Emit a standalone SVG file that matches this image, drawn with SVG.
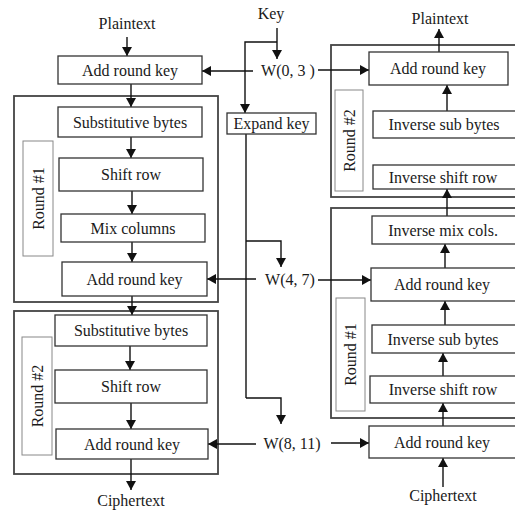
<svg xmlns="http://www.w3.org/2000/svg" width="515" height="510" viewBox="0 0 515 510">
<style>
text{font-size:16px;fill:#1a1a1a;text-anchor:middle}
.box{fill:#fff;stroke:#333;stroke-width:1.3}
.outer{fill:none;stroke:#444;stroke-width:1.8}
.lbl{fill:#fff;stroke:#888;stroke-width:1}
.ln{fill:none;stroke:#111;stroke-width:1.4}
.ar{fill:none;stroke:#111;stroke-width:1.4;marker-end:url(#ah)}
</style>
<defs>
<marker id="ah" markerUnits="userSpaceOnUse" markerWidth="9" markerHeight="10" viewBox="0 0 9 10" refX="9" refY="5" orient="auto">
<path d="M0,0 L9,5 L0,10 z" fill="#111"/>
</marker>
</defs>
<rect width="515" height="510" fill="#fff"/>
<g font-family="'Liberation Serif', 'DejaVu Serif', serif">

<g id="round-frames">
<rect class="outer" x="14" y="96" width="204" height="206"/>
<rect class="outer" x="14" y="311" width="204" height="163"/>
<rect class="outer" x="331" y="45" width="190" height="152"/>
<rect class="outer" x="331" y="208" width="190" height="210"/>
</g>

<g id="labels-round">
<g id="lbl-l1"><rect class="lbl" x="23" y="141" width="30" height="115"/><text transform="translate(38,198.5) rotate(-90)" y="5.5">Round #1</text></g>
<g id="lbl-l2"><rect class="lbl" x="22" y="337" width="30" height="118"/><text transform="translate(37,396) rotate(-90)" y="5.5">Round #2</text></g>
<g id="lbl-r2"><rect class="lbl" x="335" y="90" width="28" height="101"/><text transform="translate(349,140.5) rotate(-90)" y="5.5">Round #2</text></g>
<g id="lbl-r1"><rect class="lbl" x="336" y="298" width="29" height="113"/><text transform="translate(350.5,354.5) rotate(-90)" y="5.5">Round #1</text></g>
</g>

<g id="connectors">
<line class="ar" x1="127" y1="37" x2="127" y2="56"/>
<line class="ar" x1="131" y1="84" x2="131" y2="107"/>
<line class="ar" x1="131" y1="137" x2="131" y2="158"/>
<line class="ar" x1="132" y1="191" x2="132" y2="214"/>
<line class="ar" x1="132" y1="242" x2="132" y2="262"/>
<line class="ar" x1="132" y1="296" x2="132" y2="315"/>
<line class="ar" x1="130" y1="346" x2="130" y2="370"/>
<line class="ar" x1="131" y1="403" x2="131" y2="429"/>
<line class="ar" x1="131" y1="459" x2="131" y2="490"/>

<line class="ar" x1="439" y1="52" x2="439" y2="29"/>
<line class="ar" x1="447" y1="111" x2="447" y2="85"/>
<line class="ar" x1="447" y1="216" x2="447" y2="189"/>
<line class="ar" x1="445" y1="268" x2="445" y2="244"/>
<line class="ar" x1="445" y1="325" x2="445" y2="301"/>
<line class="ar" x1="443" y1="376" x2="443" y2="353"/>
<line class="ar" x1="443" y1="426" x2="443" y2="403"/>
<line class="ar" x1="443" y1="487" x2="443" y2="458"/>

<line class="ar" x1="277" y1="28" x2="277" y2="59"/>
<polyline class="ar" points="277,42 245,42 245,113"/>
<line class="ar" x1="253" y1="71" x2="202" y2="71"/>
<line class="ar" x1="318" y1="70" x2="369" y2="70"/>

<polyline class="ln" points="246,134 246,398"/>
<polyline class="ar" points="246,241 281,241 281,267"/>
<line class="ar" x1="256" y1="279" x2="207" y2="279"/>
<line class="ar" x1="318" y1="280" x2="371" y2="280"/>

<polyline class="ar" points="246,398 281,398 281,424"/>
<line class="ar" x1="256" y1="444" x2="208" y2="444"/>
<line class="ar" x1="331" y1="443" x2="369" y2="443"/>
</g>

<g id="io-labels">
<text x="127" y="29">Plaintext</text>
<text x="131" y="506">Ciphertext</text>
<text x="440" y="24">Plaintext</text>
<text x="443" y="501">Ciphertext</text>
<text x="271" y="19">Key</text>
<text x="288" y="76">W(0, 3 )</text>
<text x="290" y="285">W(4, 7)</text>
<text x="292" y="449">W(8, 11)</text>
</g>

<g id="expand-key"><rect class="box" x="227" y="113" width="89" height="21"/><text x="271.5" y="129">Expand key</text></g>

<g id="enc-ark0"><rect class="box" x="58" y="56" width="144" height="28"/><text x="130" y="75.5">Add round key</text></g>
<g id="enc-sb1"><rect class="box" x="58" y="107" width="144" height="30"/><text x="130" y="127.5">Substitutive bytes</text></g>
<g id="enc-sr1"><rect class="box" x="59" y="158" width="144" height="33"/><text x="131" y="180">Shift row</text></g>
<g id="enc-mc1"><rect class="box" x="61" y="214" width="144" height="28"/><text x="133" y="233.5">Mix columns</text></g>
<g id="enc-ark1"><rect class="box" x="62" y="262" width="145" height="34"/><text x="134.5" y="284.5">Add round key</text></g>
<g id="enc-sb2"><rect class="box" x="55" y="315" width="152" height="31"/><text x="131" y="336">Substitutive bytes</text></g>
<g id="enc-sr2"><rect class="box" x="55" y="370" width="152" height="33"/><text x="131" y="392">Shift row</text></g>
<g id="enc-ark2"><rect class="box" x="56" y="429" width="152" height="30"/><text x="132" y="449.5">Add round key</text></g>

<g id="dec-ark2"><rect class="box" x="369" y="52" width="139" height="33"/><text x="438" y="74">Add round key</text></g>
<g id="dec-isb2"><rect class="box" x="373" y="111" width="150" height="27"/><text x="444" y="130">Inverse sub bytes</text></g>
<g id="dec-isr2"><rect class="box" x="373" y="165" width="150" height="24"/><text x="443" y="182.5">Inverse shift row</text></g>
<g id="dec-imc1"><rect class="box" x="372" y="216" width="150" height="28"/><text x="443" y="235.5">Inverse mix cols.</text></g>
<g id="dec-ark1"><rect class="box" x="371" y="268" width="150" height="33"/><text x="442" y="290">Add round key</text></g>
<g id="dec-isb1"><rect class="box" x="372" y="325" width="150" height="28"/><text x="443" y="344.5">Inverse sub bytes</text></g>
<g id="dec-isr1"><rect class="box" x="370" y="376" width="150" height="27"/><text x="443" y="395">Inverse shift row</text></g>
<g id="dec-ark0"><rect class="box" x="369" y="426" width="150" height="32"/><text x="442" y="447.5">Add round key</text></g>
</g>
</svg>
